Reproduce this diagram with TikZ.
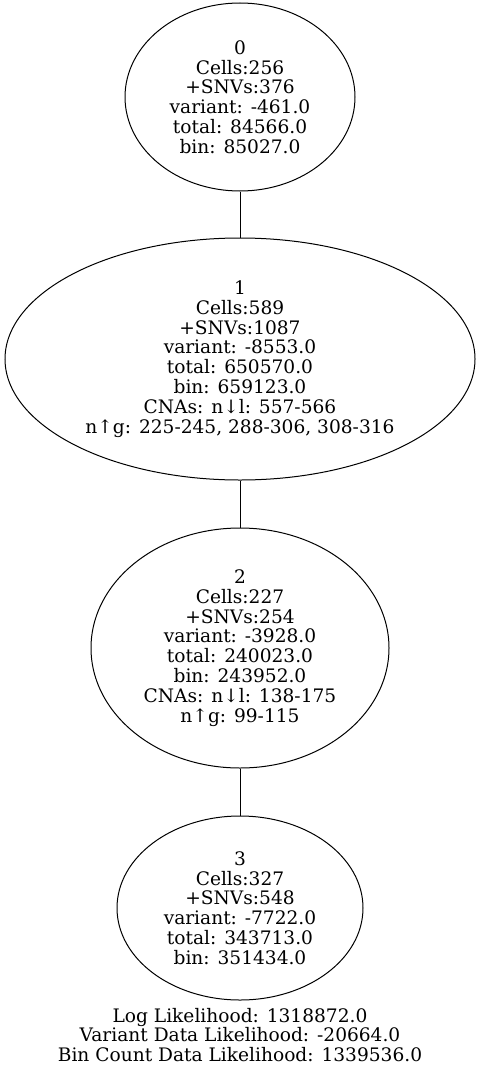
\documentclass[tikz,border=0pt]{standalone}
\usepackage{fontspec}
\setmainfont{DejaVu Serif}
\usepackage{tikz}
\usetikzlibrary{arrows.meta,
                positioning,
		shapes,
                shapes.geometric}

\begin{document}
\begin{tikzpicture}[
			x=1pt, y=-1pt,
			line width=1pt,
			clone/.style = {ellipse, draw, inner sep=0pt, align=center,
				font=\fontsize{18.6}{19.8}\selectfont},
			note/.style = {align=center, inner sep=0pt,
				font=\fontsize{18.6}{19.8}\selectfont},
			]
			\useasboundingbox (0,0) rectangle (480,1073);
			% clones
			\node[clone, minimum width=230, minimum height=188] (c0) at (240,97)
				{0\\Cells:256\\+SNVs:376\\variant: -461.0\\total: 84566.0\\bin: 85027.0};
			\node[clone, minimum width=470, minimum height=242] (c1) at (240,359)
				{1\\Cells:589\\+SNVs:1087\\variant: -8553.0\\total: 650570.0\\bin: 659123.0\\CNAs: n↓l: 557-566\\n↑g: 225-245, 288-306, 308-316};
			\node[clone, minimum width=298, minimum height=240] (c2) at (240,648)
				{2\\Cells:227\\+SNVs:254\\variant: -3928.0\\total: 240023.0\\bin: 243952.0\\CNAs: n↓l: 138-175\\n↑g: 99-115};
			\node[clone, minimum width=246, minimum height=184] (c3) at (240,908)
				{3\\Cells:327\\+SNVs:548\\variant: -7722.0\\total: 343713.0\\bin: 351434.0};
			% likelihoods
			\node[note] (ll) at (240,1035)
				{Log Likelihood: 1318872.0\\Variant Data Likelihood: -20664.0\\Bin Count Data Likelihood: 1339536.0};
			% edges
			\path[draw]
			(c0) edge (c1)
			(c1) edge (c2)
			(c2) edge (c3)
			;
		\end{tikzpicture}
\end{document}
